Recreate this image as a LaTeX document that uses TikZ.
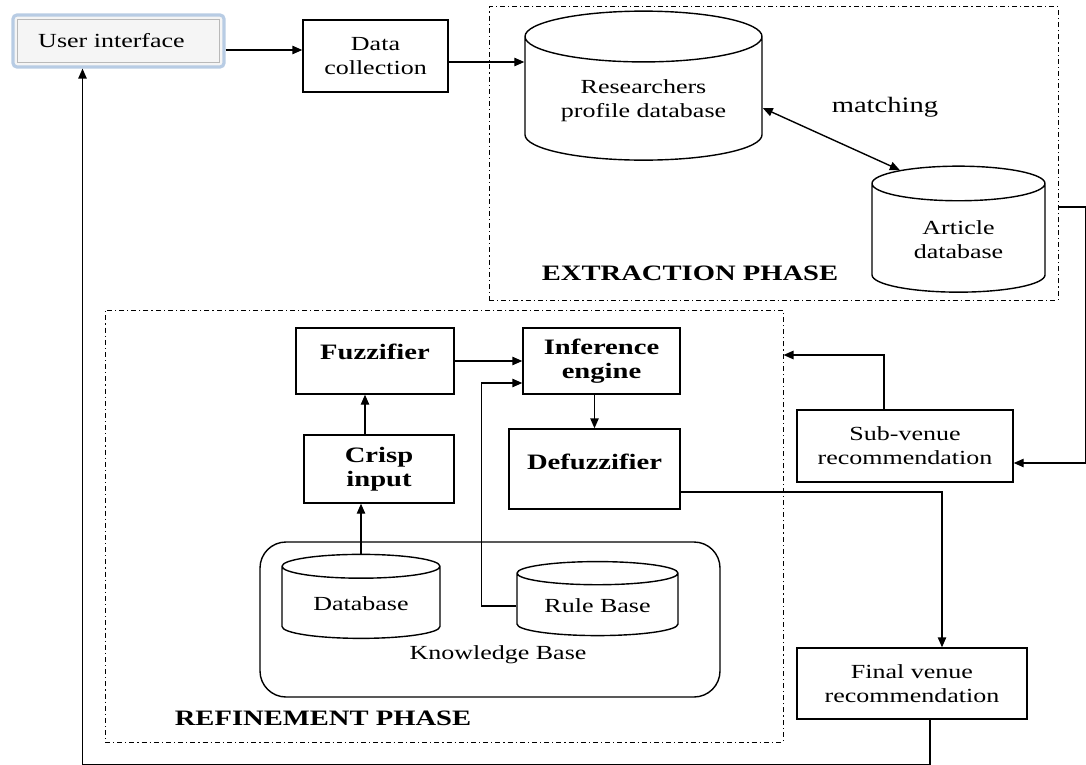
\documentclass[tikz,border=0pt]{standalone}
\usepackage{fontspec}
\setmainfont{Liberation Serif}[FakeStretch=1.3]
\usetikzlibrary{positioning, calc, shapes.geometric, arrows.meta}

\definecolor{glowblue}{RGB}{184,204,228}

\tikzset{
  phaseframe/.style={draw, line width=0.5pt, dash pattern=on 2.5pt off 1.5pt on 0.6pt off 1.5pt},
  stepbox/.style={draw, align=center, inner sep=2pt},
  fuzzybox/.style={draw, align=center, inner sep=2pt, font=\bfseries\fontsize{11}{12}\selectfont},
  store/.style={draw, cylinder, shape border rotate=90, align=center, inner sep=1pt},
  phaselabel/.style={font=\bfseries\fontsize{11}{13}\selectfont}
}

\begin{document}
\begin{tikzpicture}[x=0.5pt, y=-0.5pt, >={Triangle[length=5pt,width=4.2pt]}, line width=0.7pt, font=\fontsize{10}{12}\selectfont]
\useasboundingbox (0,0) rectangle (1086,765);

\node (ext) [phaseframe, minimum width=284.5pt, minimum height=146.5pt] at (773.5,153.5) {};
\node (ref) [phaseframe, minimum width=339pt, minimum height=216pt] at (444,526) {};
\node (extlbl) [phaselabel] at (690,273) {EXTRACTION PHASE};
\node (reflbl) [phaselabel] at (323,718) {REFINEMENT PHASE};

\node (ui) [draw=glowblue, line width=1.6pt, fill=gray!8, minimum width=105.5pt, minimum height=26pt, rounded corners=2pt] at (118.5,41) {\hspace*{-7pt}User interface};
\draw [gray!55, line width=0.5pt] ([shift={(3pt,3pt)}]ui.south west) rectangle ([shift={(-3pt,-3pt)}]ui.north east);
\node (dc) [stepbox, minimum width=72.5pt, minimum height=36pt] at (375.5,56) {Data\\collection};

\node (rp) [store, aspect=0.3, minimum width=118.5pt, minimum height=74.5pt] at (643.5,101) {Researchers\\profile database};
\node (art) [store, aspect=0.37, minimum width=86.5pt, minimum height=63pt] at (958.5,240) {Article\\database};
\node (match) [font=\fontsize{11}{13}\selectfont] at (885,107) {matching};

\node (fuzz) [fuzzybox, text depth=9pt, minimum width=79pt, minimum height=33pt] at (375,361) {Fuzzifier};
\node (inf) [fuzzybox, minimum width=78.5pt, minimum height=33pt] at (601.5,361) {Inference\\engine};
\node (defuzz) [fuzzybox, text depth=7pt, minimum width=85.5pt, minimum height=40pt] at (594.5,469) {Defuzzifier};
\node (crisp) [fuzzybox, minimum width=75pt, minimum height=34pt] at (379,469) {Crisp\\input};

\node (kb) [draw, rounded corners=13pt, minimum width=230pt, minimum height=77.5pt] at (490,619.5) {};
\node (db) [store, aspect=0.24, minimum width=79pt, minimum height=42pt] at (361,604) {Database};
\node (rule) [store, aspect=0.21, minimum width=80.5pt, minimum height=37pt] at (597.5,606) {Rule Base};
\node (kblbl) at (498,655) {Knowledge Base};

\node (sub) [stepbox, minimum width=108pt, minimum height=36pt] at (905,446) {Sub-venue\\recommendation};
\node (final) [stepbox, minimum width=115pt, minimum height=35.5pt] at (912,683.5) {Final venue\\recommendation};

\draw [->] ([yshift=-4.5pt]ui.east) -- ([yshift=-4.5pt]ui.east -| dc.west);
\draw [->] ([yshift=-3pt]dc.east) -- ([yshift=-3pt]dc.east -| rp.west);
\draw [<->] ([yshift=-3.5pt]rp.east) -- (art.130);
\draw [->] (ext.east |- 0,207) -- ++(27,0) |- ([yshift=-8.5pt]sub.east);
\draw [->] ([xshift=-10.5pt]sub.north) |- (ref.east |- 0,355);

\draw [->] (fuzz) -- (inf);
\draw [->] (rule.west) -- ++(-35,0) |- ([yshift=-11pt]inf.west);
\draw [->] (inf.south -| defuzz.north) -- (defuzz.north);
\draw [->] ([xshift=-7pt]crisp.north) -- ([xshift=-7pt]crisp.north |- fuzz.south);
\draw [->] (db.north) -- (db.north |- crisp.south);
\draw [->] ([yshift=-11.5pt]defuzz.east) -| ([xshift=15pt]final.north);
\draw [->] ([xshift=9pt]final.south) -- ++(0,45) -| ([xshift=-18pt]ui.south);
\end{tikzpicture}
\end{document}
